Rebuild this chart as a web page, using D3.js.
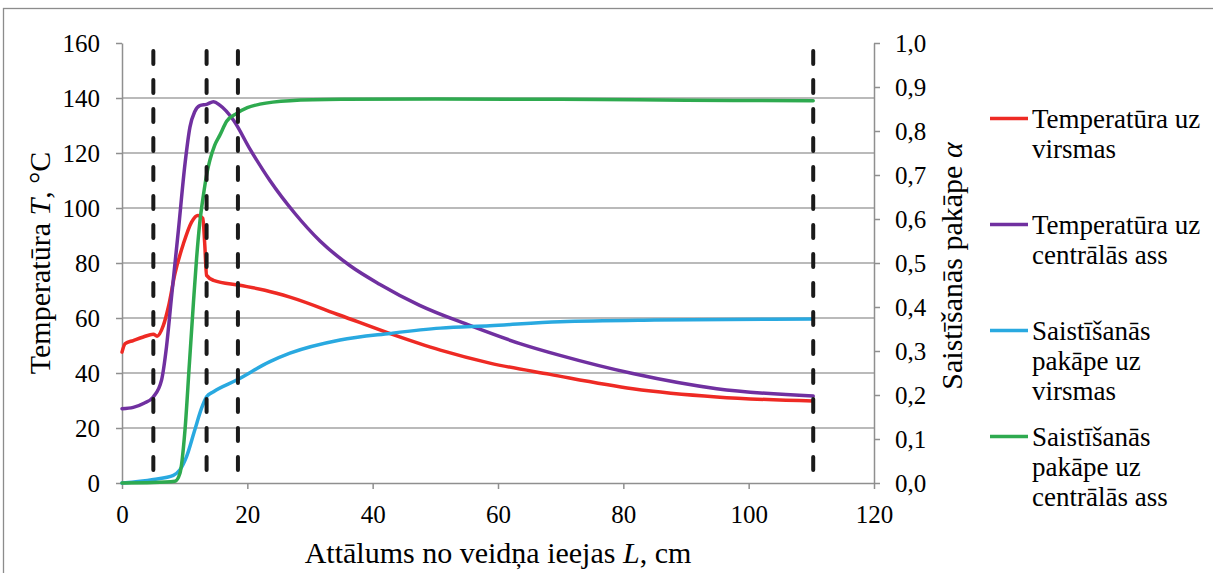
<!DOCTYPE html>
<html>
<head>
<meta charset="utf-8">
<script src="https://cdn.jsdelivr.net/npm/d3@7"></script>
<style>
  html, body { margin: 0; padding: 0; background: #fff; }
  svg { display: block; }
</style>
</head>
<body>
<svg id="chart" width="1213" height="573"></svg>
<script>
// Distance from the die entrance, cm, and the measured/computed profiles
const surfaceTempL = [0, 0.5, 1.8, 3.4, 5, 5.6, 6.6, 7.4, 8.45, 9.8, 11.1, 12.1, 12.9, 13.2, 13.5, 14.6, 18.8, 22.8, 26.8, 34.8, 42.8, 50.8, 58.7, 68.3, 81.5, 94.9, 110.3];
const surfaceTemp  = [47.6, 50.7, 51.8, 53.1, 54.1, 53.4, 57.3, 64, 76.1, 87, 94.9, 97.3, 96.2, 87, 75.5, 73.7, 71.9, 70.1, 67.6, 61, 54.3, 48.3, 43.6, 39.5, 34.3, 31.3, 29.8];

const axisTempL = [0, 1.8, 3.5, 5, 6.3, 7.1, 7.9, 9, 10.05, 10.85, 11.6, 12.4, 13.5, 14.6, 15.6, 17.8, 20.4, 23.6, 27.6, 31.6, 36.4, 41.1, 47.5, 55.5, 63.5, 69.9, 81.5, 94.9, 110.3];
const axisTemp  = [27, 27.5, 29, 31.3, 37.3, 49.5, 67.6, 91.9, 116, 129.5, 135, 137.2, 137.7, 138.6, 137.4, 131.9, 121.5, 110, 98, 88, 79, 72.3, 64.6, 57.3, 50.7, 46.4, 39.8, 34.3, 31.6];

const surfaceCureL = [0, 5, 8.2, 9.25, 10.3, 11.6, 12.7, 13.5, 14.6, 18.3, 23.6, 26.8, 34.8, 42.8, 50.8, 58.7, 69.9, 85, 110.3];
const surfaceCure  = [0, 0.008, 0.0175, 0.03, 0.06, 0.12, 0.17, 0.196, 0.2075, 0.234, 0.2757, 0.295, 0.325, 0.340, 0.352, 0.3575, 0.3666, 0.3705, 0.3727];

const axisCureL = [0, 5, 8.45, 9.25, 10.05, 10.75, 11.4, 11.9, 12.4, 13.0, 13.5, 14.8, 15.6, 16.7, 18.3, 20, 22, 26.8, 35, 50, 70, 90, 110.3];
const axisCure  = [0, 0.001, 0.004, 0.022, 0.12, 0.27, 0.41, 0.51, 0.59, 0.655, 0.70, 0.768, 0.79, 0.822, 0.84, 0.853, 0.861, 0.869, 0.872, 0.873, 0.872, 0.870, 0.869];

// Zone boundaries along the die
const zoneBoundaries = [5, 13.5, 18.5, 110.3];

// Axis ticks
const lengthTicks = [0, 20, 40, 60, 80, 100, 120];
const tempTicks = [0, 20, 40, 60, 80, 100, 120, 140, 160];
const cureTicks = [0, 0.1, 0.2, 0.3, 0.4, 0.5, 0.6, 0.7, 0.8, 0.9, 1.0];
const cureTickLabels = ["0,0", "0,1", "0,2", "0,3", "0,4", "0,5", "0,6", "0,7", "0,8", "0,9", "1,0"];

const seriesNames = [
  ["Temperatūra uz", "virsmas"],
  ["Temperatūra uz", "centrālās ass"],
  ["Saistīšanās", "pakāpe uz", "virsmas"],
  ["Saistīšanās", "pakāpe uz", "centrālās ass"]
];
const seriesColors = ["#ee2a24", "#7030a0", "#29a9e0", "#2eaa4f"];

const FONT = "Liberation Serif";

const svg = d3.select("#chart");

// Outer chart frame
svg.append("rect")
  .attr("x", 3.5).attr("y", 8.5).attr("width", 1300).attr("height", 700)
  .attr("fill", "none").attr("stroke", "#8c8c8c").attr("stroke-width", 1.3);

const plot = { left: 122, right: 874, top: 43, bottom: 483 };

const x = d3.scaleLinear().domain([0, 120]).range([plot.left, plot.right]);
const yT = d3.scaleLinear().domain([0, 160]).range([plot.bottom, plot.top]);
const yA = d3.scaleLinear().domain([0, 1]).range([plot.bottom, plot.top]);

const gridColor = "#a3a3a3";
const axisColor = "#8f8f8f";

// Horizontal gridlines
svg.append("g").selectAll("line")
  .data(tempTicks.filter(t => t > 0 && t < 160))
  .join("line")
  .attr("x1", plot.left).attr("x2", plot.right)
  .attr("y1", d => yT(d)).attr("y2", d => yT(d))
  .attr("stroke", gridColor).attr("stroke-width", 1.5);

function styleAxis(g, fontSize) {
  g.attr("font-family", FONT).attr("font-size", fontSize);
  g.select(".domain").attr("stroke", axisColor).attr("stroke-width", 1.5);
  g.selectAll(".tick line").attr("stroke", axisColor).attr("stroke-width", 1.5);
  g.selectAll(".tick text")
    .attr("font-family", FONT)
    .attr("font-size", fontSize).attr("fill", "#000");
}

// Left axis: temperature
svg.append("g")
  .attr("transform", `translate(${plot.left},0)`)
  .call(d3.axisLeft(yT).tickValues(tempTicks).tickFormat(d3.format("d"))
    .tickSize(6).tickSizeOuter(0).tickPadding(16))
  .call(g => styleAxis(g, 25));

// Right axis: degree of cure
svg.append("g")
  .attr("transform", `translate(${plot.right},0)`)
  .call(d3.axisRight(yA).tickValues(cureTicks)
    .tickFormat((d, i) => cureTickLabels[i])
    .tickSize(6).tickSizeOuter(0).tickPadding(15))
  .call(g => styleAxis(g, 25));

// Bottom axis: distance
svg.append("g")
  .attr("transform", `translate(0,${plot.bottom})`)
  .call(d3.axisBottom(x).tickValues(lengthTicks).tickFormat(d3.format("d"))
    .tickSize(6).tickSizeOuter(0).tickPadding(16))
  .call(g => styleAxis(g, 25));

// Axis titles
function title(sel, parts) {
  parts.forEach(p => {
    const ts = sel.append("tspan").text(p.t);
    if (p.i) ts.attr("font-style", "italic");
  });
  return sel;
}

title(svg.append("text")
  .attr("x", (plot.left + plot.right) / 2).attr("y", 563)
  .attr("text-anchor", "middle").attr("font-family", FONT).attr("font-size", 30),
  [{ t: "Attālums no veidņa ieejas " }, { t: "L", i: true }, { t: ", cm" }]);

title(svg.append("text")
  .attr("transform", `translate(50,${(plot.top + plot.bottom) / 2}) rotate(-90)`)
  .attr("text-anchor", "middle").attr("font-family", FONT).attr("font-size", 30),
  [{ t: "Temperatūra " }, { t: "T", i: true }, { t: ", °C" }]);

title(svg.append("text")
  .attr("transform", `translate(962,${(plot.top + plot.bottom) / 2 + 3}) rotate(-90)`)
  .attr("text-anchor", "middle").attr("font-family", FONT).attr("font-size", 30),
  [{ t: "Saistīšanās pakāpe " }, { t: "α", i: true }]);

// Series lines
const line = (xs, ys, yScale) => d3.line()
  .x((d, i) => x(xs[i]))
  .y(d => yScale(d))
  .curve(d3.curveMonotoneX)(ys);

const series = [
  { xs: surfaceTempL, ys: surfaceTemp, scale: yT },
  { xs: axisTempL, ys: axisTemp, scale: yT },
  { xs: surfaceCureL, ys: surfaceCure, scale: yA },
  { xs: axisCureL, ys: axisCure, scale: yA }
];

svg.append("g").selectAll("path")
  .data(series)
  .join("path")
  .attr("d", s => line(s.xs, s.ys, s.scale))
  .attr("fill", "none")
  .attr("stroke", (s, i) => seriesColors[i])
  .attr("stroke-width", 3.5)
  .attr("stroke-linejoin", "round")
  .attr("stroke-linecap", "round");

// Zone boundary markers
svg.append("g").selectAll("line")
  .data(zoneBoundaries)
  .join("line")
  .attr("x1", d => x(d)).attr("x2", d => x(d))
  .attr("y1", 51).attr("y2", plot.bottom)
  .attr("stroke", "#1a1a1a").attr("stroke-width", 4)
  .attr("stroke-linecap", "round")
  .attr("stroke-dasharray", "13,16");

// Legend
const legendRows = [118.5, 224.5, 330.5, 436.5];
const legendLineH = 30.3;
const legend = svg.append("g");
seriesNames.forEach((lines, i) => {
  const y0 = legendRows[i];
  legend.append("line")
    .attr("x1", 990).attr("x2", 1028).attr("y1", y0).attr("y2", y0)
    .attr("stroke", seriesColors[i]).attr("stroke-width", 3.5);
  const t = legend.append("text").attr("font-family", FONT).attr("font-size", 27).attr("fill", "#000");
  lines.forEach((s, k) => {
    t.append("tspan").attr("x", 1032).attr("y", y0 + 9 + k * legendLineH).text(s);
  });
});
</script>
</body>
</html>
